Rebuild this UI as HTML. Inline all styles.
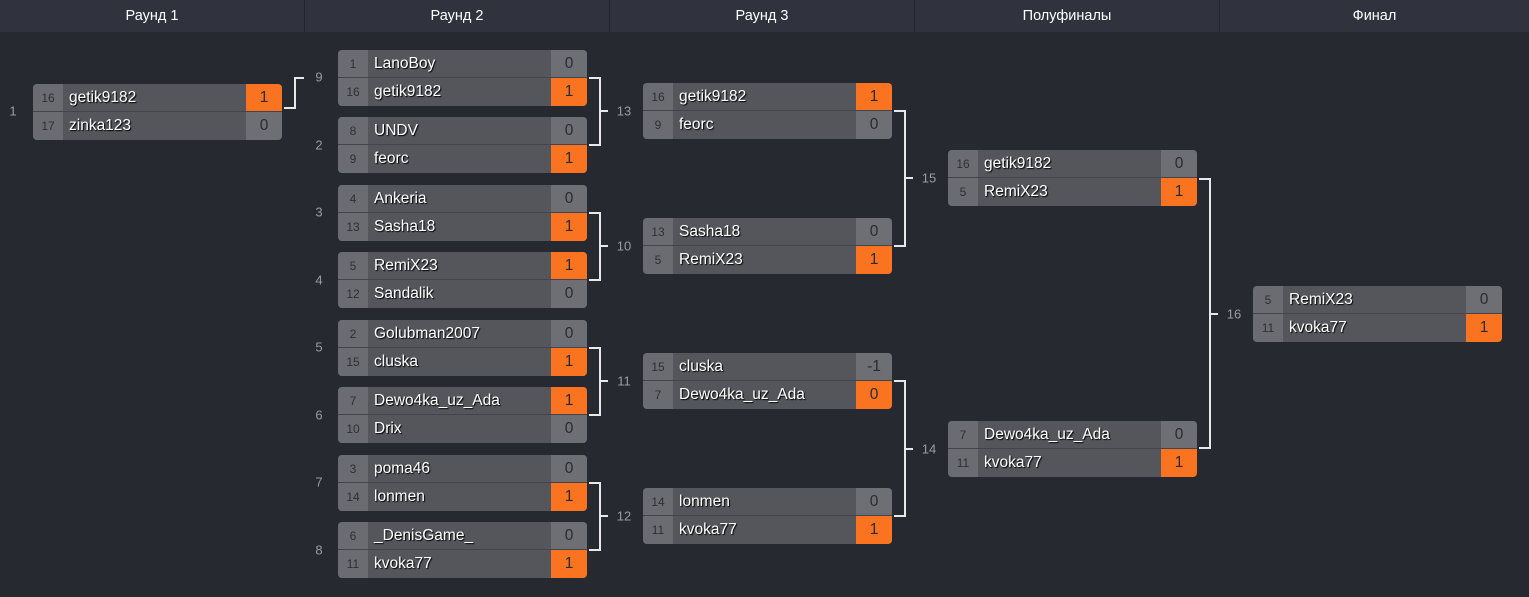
<!DOCTYPE html>
<html><head><meta charset="utf-8"><style>
*{box-sizing:border-box;margin:0;padding:0}
body{width:1529px;height:597px;background:#272931;font-family:"Liberation Sans",sans-serif;position:relative;overflow:hidden}
.hd{position:absolute;top:0;height:32px;background:#30333e;color:#fff;font-size:14.5px;line-height:32px;text-align:center;border-right:1px solid #23252c}
.m{position:absolute;width:249px;height:56px;border-radius:4px;overflow:hidden;background:#55565c}
.r{position:absolute;left:0;width:249px;height:28px;display:flex}
.r1{top:0;border-bottom:1px solid #44454b;height:28px}
.r2{top:28px}
.s{width:30px;background:#6b6c72;color:#2e2f35;font-size:12px;text-align:center;line-height:28px}
.n{flex:1;background:#55565c;color:#fff;font-size:15.5px;line-height:28px;padding-left:6px;text-shadow:1px 1px 1px #000}
.p{width:36px;background:#6e6f75;color:#2a2b30;font-size:15.5px;text-align:center;line-height:28px}
.p.w{background:#f97321}
.l{position:absolute;color:#9a9ca4;font-size:13px;transform:translate(-50%,-50%)}
.v{position:absolute;border:2px solid #e8e8e8;border-left:none;width:12px}
.h{position:absolute;height:2px;background:#e8e8e8;width:8px}
</style></head><body>
<div class="hd" style="left:0;width:305px">Раунд 1</div>
<div class="hd" style="left:305px;width:305px">Раунд 2</div>
<div class="hd" style="left:610px;width:305px">Раунд 3</div>
<div class="hd" style="left:915px;width:305px">Полуфиналы</div>
<div class="hd" style="left:1220px;width:309px;border-right:none">Финал</div>

<div class="m" style="left:33px;top:84px"><div class="r r1"><div class="s">16</div><div class="n">getik9182</div><div class="p w">1</div></div><div class="r r2"><div class="s">17</div><div class="n">zinka123</div><div class="p">0</div></div></div>
<div class="l" style="left:13px;top:111px">1</div>
<div class="h" style="left:284px;top:107px;width:12px"></div>
<div style="position:absolute;left:294px;top:77px;width:2px;height:32px;background:#e8e8e8"></div>
<div class="h" style="left:294px;top:77px;width:10px"></div>

<div class="m" style="left:338px;top:50px"><div class="r r1"><div class="s">1</div><div class="n">LanoBoy</div><div class="p">0</div></div><div class="r r2"><div class="s">16</div><div class="n">getik9182</div><div class="p w">1</div></div></div>
<div class="m" style="left:338px;top:117px"><div class="r r1"><div class="s">8</div><div class="n">UNDV</div><div class="p">0</div></div><div class="r r2"><div class="s">9</div><div class="n">feorc</div><div class="p w">1</div></div></div>
<div class="m" style="left:338px;top:185px"><div class="r r1"><div class="s">4</div><div class="n">Ankeria</div><div class="p">0</div></div><div class="r r2"><div class="s">13</div><div class="n">Sasha18</div><div class="p w">1</div></div></div>
<div class="m" style="left:338px;top:252px"><div class="r r1"><div class="s">5</div><div class="n">RemiX23</div><div class="p w">1</div></div><div class="r r2"><div class="s">12</div><div class="n">Sandalik</div><div class="p">0</div></div></div>
<div class="m" style="left:338px;top:320px"><div class="r r1"><div class="s">2</div><div class="n">Golubman2007</div><div class="p">0</div></div><div class="r r2"><div class="s">15</div><div class="n">cluska</div><div class="p w">1</div></div></div>
<div class="m" style="left:338px;top:387px"><div class="r r1"><div class="s">7</div><div class="n">Dewo4ka_uz_Ada</div><div class="p w">1</div></div><div class="r r2"><div class="s">10</div><div class="n">Drix</div><div class="p">0</div></div></div>
<div class="m" style="left:338px;top:455px"><div class="r r1"><div class="s">3</div><div class="n">poma46</div><div class="p">0</div></div><div class="r r2"><div class="s">14</div><div class="n">lonmen</div><div class="p w">1</div></div></div>
<div class="m" style="left:338px;top:522px"><div class="r r1"><div class="s">6</div><div class="n">_DenisGame_</div><div class="p">0</div></div><div class="r r2"><div class="s">11</div><div class="n">kvoka77</div><div class="p w">1</div></div></div>
<div class="l" style="left:319px;top:77px">9</div>
<div class="l" style="left:319px;top:145px">2</div>
<div class="l" style="left:319px;top:212px">3</div>
<div class="l" style="left:319px;top:280px">4</div>
<div class="l" style="left:319px;top:347px">5</div>
<div class="l" style="left:319px;top:415px">6</div>
<div class="l" style="left:319px;top:482px">7</div>
<div class="l" style="left:319px;top:550px">8</div>

<div class="v" style="left:589px;top:77px;height:69px"></div><div class="h" style="left:600px;top:110px"></div><div class="l" style="left:624px;top:111px">13</div>
<div class="v" style="left:589px;top:212px;height:69px"></div><div class="h" style="left:600px;top:245px"></div><div class="l" style="left:624px;top:246px">10</div>
<div class="v" style="left:589px;top:347px;height:69px"></div><div class="h" style="left:600px;top:380px"></div><div class="l" style="left:624px;top:381px">11</div>
<div class="v" style="left:589px;top:482px;height:69px"></div><div class="h" style="left:600px;top:515px"></div><div class="l" style="left:624px;top:516px">12</div>

<div class="m" style="left:643px;top:83px"><div class="r r1"><div class="s">16</div><div class="n">getik9182</div><div class="p w">1</div></div><div class="r r2"><div class="s">9</div><div class="n">feorc</div><div class="p">0</div></div></div>
<div class="m" style="left:643px;top:218px"><div class="r r1"><div class="s">13</div><div class="n">Sasha18</div><div class="p">0</div></div><div class="r r2"><div class="s">5</div><div class="n">RemiX23</div><div class="p w">1</div></div></div>
<div class="m" style="left:643px;top:353px"><div class="r r1"><div class="s">15</div><div class="n">cluska</div><div class="p">-1</div></div><div class="r r2"><div class="s">7</div><div class="n">Dewo4ka_uz_Ada</div><div class="p w">0</div></div></div>
<div class="m" style="left:643px;top:488px"><div class="r r1"><div class="s">14</div><div class="n">lonmen</div><div class="p">0</div></div><div class="r r2"><div class="s">11</div><div class="n">kvoka77</div><div class="p w">1</div></div></div>

<div class="v" style="left:894px;top:110px;height:137px"></div><div class="h" style="left:905px;top:177px"></div><div class="l" style="left:929px;top:178px">15</div>
<div class="v" style="left:894px;top:380px;height:137px"></div><div class="h" style="left:905px;top:448px"></div><div class="l" style="left:929px;top:449px">14</div>

<div class="m" style="left:948px;top:150px"><div class="r r1"><div class="s">16</div><div class="n">getik9182</div><div class="p">0</div></div><div class="r r2"><div class="s">5</div><div class="n">RemiX23</div><div class="p w">1</div></div></div>
<div class="m" style="left:948px;top:421px"><div class="r r1"><div class="s">7</div><div class="n">Dewo4ka_uz_Ada</div><div class="p">0</div></div><div class="r r2"><div class="s">11</div><div class="n">kvoka77</div><div class="p w">1</div></div></div>

<div class="v" style="left:1199px;top:178px;height:271px"></div><div class="h" style="left:1210px;top:313px"></div><div class="l" style="left:1234px;top:314px">16</div>

<div class="m" style="left:1253px;top:286px"><div class="r r1"><div class="s">5</div><div class="n">RemiX23</div><div class="p">0</div></div><div class="r r2"><div class="s">11</div><div class="n">kvoka77</div><div class="p w">1</div></div></div>
</body></html>
